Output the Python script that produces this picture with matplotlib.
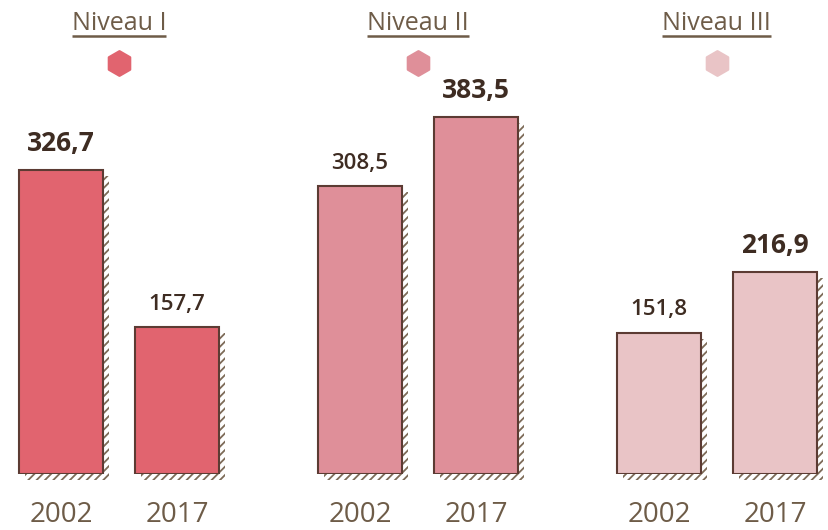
import numpy as np
import matplotlib.pyplot as plt
import matplotlib.transforms as mtransforms

# values (thousands) per level, 2002 vs 2017
levels = ['Niveau I', 'Niveau II', 'Niveau III']
years = ['2002', '2017']
v2002 = [326.7, 308.5, 151.8]
v2017 = [157.7, 383.5, 216.9]
labels2002 = ['326,7', '308,5', '151,8']
labels2017 = ['157,7', '383,5', '216,9']

colors = ['#E1646F', '#DF8F99', '#E9C4C6']
edge = '#5C3B33'
shade = '#7D6B58'
txt_dark = '#3E2C22'
txt_soft = '#6E5C48'

plt.rcParams['font.family'] = ['Open Sans', 'DejaVu Sans']
plt.rcParams['hatch.linewidth'] = 1.3

fig = plt.figure(figsize=(8.29, 5.30), dpi=100)
ax = fig.add_axes([0, 56 / 530, 1, 474 / 530])
ax.set_xlim(-0.398, 2.375)
ax.set_ylim(0, 508.6)
ax.axis('off')

x = np.arange(len(levels))
off = 0.194
w = 0.281

# hatched drop shadow, shifted right/down behind each bar
shadow_tr = mtransforms.offset_copy(ax.transData, fig=fig, x=6, y=-6, units='dots')
for vals, dx in [(v2002, -off), (v2017, off)]:
    sh = ax.bar(x + dx, vals, w, facecolor='none', edgecolor=shade, linewidth=0,
                hatch='////', transform=shadow_tr, zorder=1)
    for p in sh:
        p.set_clip_on(False)
    ax.bar(x + dx, vals, w, color=colors, edgecolor=edge, linewidth=1.5, zorder=2)

# value labels, the higher figure of each pair in bold
for i in range(len(levels)):
    for vals, labs, dx in [(v2002, labels2002, -off), (v2017, labels2017, off)]:
        if vals[i] == max(v2002[i], v2017[i]):
            style = dict(fontsize=19, fontweight='bold')
        else:
            style = dict(fontsize=16, fontweight='semibold')
        ax.annotate(labs[i], (x[i] + dx, vals[i]), xytext=(0, 9), textcoords='offset points',
                    ha='center', va='bottom', color=txt_dark, **style)

# year labels under bars
xt = ax.get_xaxis_transform()
for i in range(len(levels)):
    for yr, dx in zip(years, [-off, off]):
        ax.text(x[i] + dx, -0.101, yr, transform=xt, ha='center', va='baseline',
                fontsize=20, color=txt_soft)

# level titles, underlined, with colour dot
fig.canvas.draw()
renderer = fig.canvas.get_renderer()
for i, name in enumerate(levels):
    t = ax.text(x[i], 0.937, name, transform=xt, ha='center', va='baseline',
                fontsize=18, color=txt_soft)
    bb = t.get_window_extent(renderer).transformed(ax.transData.inverted())
    ax.plot([bb.x0, bb.x1], [0.924, 0.924], transform=xt, color=txt_soft,
            lw=1.8, solid_capstyle='butt', clip_on=False)
    ax.scatter([x[i]], [0.867], transform=xt, s=300, marker='h', color=colors[i],
               edgecolors=colors[i], linewidths=2, clip_on=False, zorder=3)

fig.savefig('out.png', dpi=100, facecolor='white')
